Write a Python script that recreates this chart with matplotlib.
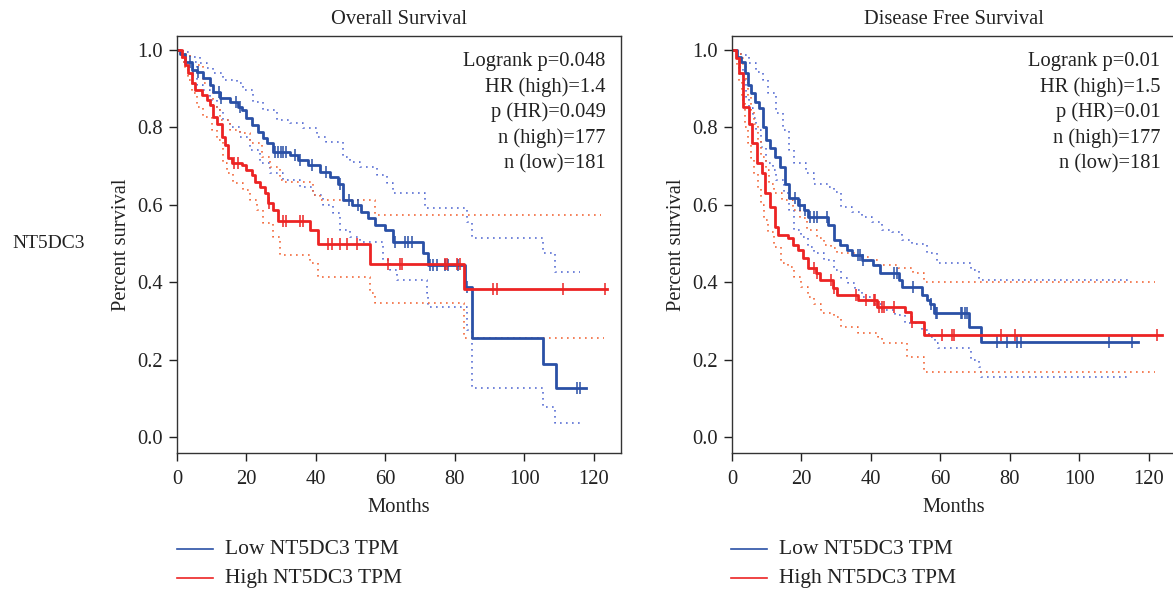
import numpy as np
import matplotlib
matplotlib.use("Agg")
import matplotlib.pyplot as plt

plt.rcParams['font.family'] = ['Liberation Serif', 'DejaVu Serif']

gene = "NT5DC3"
blue = "#2a50a6"
red = "#ec2424"
blue_ci = "#5a70d4"
red_ci = "#f26a3c"

# ---------------- Overall survival ----------------
os_low_t = [0, 1, 2.3, 4.2, 5.7, 7.6, 9.5, 10.5, 12.4, 15.3, 17.6, 18.6, 20, 21.5, 23.4, 24.8,
            25.8, 27.7, 32.5, 34.9, 37.8, 41.2, 44, 46.4, 47.9, 50.3, 53.1, 55.1, 57, 59.9,
            62.3, 70.9, 72.3, 83, 85, 105.3, 109, 117.7]
os_low_s = [1.0, 0.99, 0.97, 0.948, 0.944, 0.927, 0.909, 0.892, 0.875, 0.866, 0.853, 0.845,
            0.823, 0.806, 0.789, 0.772, 0.759, 0.737, 0.729, 0.716, 0.703, 0.686, 0.673, 0.655,
            0.612, 0.6, 0.582, 0.565, 0.548, 0.535, 0.505, 0.475, 0.444, 0.388, 0.256, 0.19,
            0.127, 0.127]
os_low_cens = [3.7, 4.5, 6, 12, 12.8, 17, 18.2, 28.2, 29, 29.8, 30.6, 31.4, 34, 35.5, 39, 43,
               47, 49.5, 52, 62.7, 65.6, 66.6, 67.5, 72.8, 73.7, 74.8, 77, 78, 80.9, 83.5,
               115.1, 116]
os_low_up_t = [0, 1.3, 3.7, 6.6, 8.5, 10.5, 13.3, 17.2, 19, 21.9, 24.8, 28.8, 32.6, 36.3, 40.2,
               43, 47.8, 49.8, 52.7, 57.5, 60.4, 62.3, 71.4, 83.5, 85, 105.3, 108.8, 116]
os_low_up_s = [1.0, 0.995, 0.982, 0.966, 0.953, 0.94, 0.922, 0.915, 0.897, 0.866, 0.845, 0.82,
               0.811, 0.798, 0.775, 0.762, 0.724, 0.711, 0.698, 0.677, 0.656, 0.63, 0.592,
               0.556, 0.514, 0.475, 0.427, 0.427]
os_low_lo_t = [0, 1.8, 5.7, 7.6, 9.5, 11.4, 13.3, 15.3, 18, 21, 24, 26.8, 30.6, 35.4, 39.1, 42,
               44.9, 46.9, 49.8, 52.7, 59.3, 61.3, 63.3, 72, 72.3, 83.5, 85, 105.3, 108.8, 116]
os_low_lo_s = [1.0, 0.969, 0.909, 0.897, 0.871, 0.845, 0.82, 0.8, 0.775, 0.742, 0.707, 0.682,
               0.664, 0.646, 0.625, 0.6, 0.578, 0.535, 0.517, 0.504, 0.457, 0.431, 0.405,
               0.372, 0.336, 0.276, 0.127, 0.078, 0.036, 0.036]

os_high_t = [0, 1.3, 2.3, 3.3, 4.2, 5.2, 7.1, 8.5, 9.5, 10.5, 11.4, 12.9, 13.8, 14.8, 15.7,
             18.6, 20, 21.5, 22.4, 23.9, 25.3, 26.3, 27.7, 29.2, 38.3, 40.7, 55.5, 82.5, 123.7]
os_high_s = [1.0, 0.983, 0.961, 0.94, 0.914, 0.897, 0.884, 0.871, 0.858, 0.828, 0.81, 0.776,
             0.755, 0.72, 0.707, 0.703, 0.69, 0.677, 0.66, 0.647, 0.63, 0.604, 0.587, 0.557,
             0.535, 0.5, 0.447, 0.383, 0.383]
os_high_cens = [16.5, 17.5, 26.5, 30.6, 31.5, 35.3, 36.2, 43.5, 44.5, 47, 49, 51.8, 60.7, 64.2,
                64.7, 77, 77.7, 80.6, 81.4, 91, 92, 111, 123.2]
os_high_up_t = [0, 1.3, 3.7, 7.6, 10.5, 12.4, 15.3, 18, 21, 24.4, 26.8, 29.6, 30.6, 39.2, 41.2,
                57, 122]
os_high_up_s = [1.0, 0.99, 0.96, 0.915, 0.853, 0.82, 0.793, 0.785, 0.76, 0.724, 0.698, 0.664,
                0.66, 0.625, 0.612, 0.573, 0.573]
os_high_lo_t = [0, 1.3, 2.3, 3.3, 4.2, 5.7, 7.6, 10, 11.4, 13.3, 14.3, 16.2, 19, 21, 23, 24.8,
                27.7, 29.6, 38.3, 40.7, 55.5, 57, 82.5, 123]
os_high_lo_s = [1.0, 0.97, 0.953, 0.922, 0.889, 0.853, 0.827, 0.793, 0.767, 0.707, 0.682, 0.656,
                0.638, 0.612, 0.587, 0.553, 0.517, 0.47, 0.45, 0.414, 0.372, 0.346, 0.256, 0.256]

# ---------------- Disease free survival ----------------
dfs_low_t = [0, 1.5, 2.6, 3.6, 4.5, 5.5, 6.7, 7.9, 8.8, 9.8, 11, 12.5, 13.9, 15.3, 16.5, 19,
             20.8, 22, 27.5, 29.5, 31, 33, 34.5, 37.3, 40.5, 42.5, 48, 49, 54.6, 56, 57, 58,
             68.2, 71.6, 116.8]
dfs_low_s = [1.0, 0.983, 0.97, 0.94, 0.91, 0.888, 0.866, 0.849, 0.802, 0.767, 0.746, 0.724,
             0.698, 0.655, 0.617, 0.6, 0.587, 0.569, 0.548, 0.509, 0.496, 0.483, 0.47, 0.457,
             0.444, 0.423, 0.406, 0.388, 0.367, 0.354, 0.345, 0.32, 0.285, 0.246, 0.246]
dfs_low_cens = [18.1, 19.5, 20.9, 22.5, 23.5, 24.5, 27.3, 36.2, 36.9, 37.6, 46.6, 47.5, 52.2,
                57.2, 58.6, 59.1, 65.8, 66.3, 67.2, 67.7, 76.3, 79.2, 82.1, 83.1, 108.5, 115.2]
dfs_low_up_t = [0, 1.5, 2.6, 5, 6.9, 8.8, 10.3, 12.7, 14.6, 16.5, 17.9, 21.3, 23.7, 27.6, 29.5,
                31.5, 34.4, 37.3, 40.2, 43.2, 46.1, 49, 51.9, 56.2, 59.1, 68.8, 71.2, 114.9]
dfs_low_up_s = [1.0, 0.995, 0.987, 0.965, 0.944, 0.922, 0.888, 0.836, 0.793, 0.742, 0.707,
                0.681, 0.655, 0.647, 0.634, 0.595, 0.582, 0.569, 0.556, 0.535, 0.53, 0.509, 0.5,
                0.475, 0.449, 0.431, 0.406, 0.406]
dfs_low_lo_t = [0, 1.5, 2.1, 3.1, 4, 5, 6, 6.9, 8.3, 9.8, 11.7, 12.7, 15.1, 16.5, 17.9, 19.9,
                21.8, 23.7, 26.6, 29.5, 31.5, 33.4, 35.4, 37.3, 40.2, 43.2, 47, 49.9, 54.7, 56.6,
                58.5, 59.3, 68.8, 71.2, 71.6, 114.7]
dfs_low_lo_s = [1.0, 0.98, 0.957, 0.922, 0.879, 0.849, 0.823, 0.793, 0.75, 0.707, 0.69, 0.664,
                0.63, 0.587, 0.535, 0.517, 0.492, 0.475, 0.457, 0.431, 0.41, 0.397, 0.38, 0.362,
                0.345, 0.328, 0.315, 0.294, 0.276, 0.259, 0.242, 0.229, 0.199, 0.182, 0.156,
                0.156]

dfs_high_t = [0, 1.2, 2, 3.3, 4.8, 5.8, 7.2, 8.6, 9.6, 11, 12.5, 13.3, 16, 17.5, 19, 20.5, 22,
              24.3, 25.3, 29.2, 30.2, 36.4, 41.7, 49.8, 51.5, 55.2, 123.7]
dfs_high_s = [1.0, 0.98, 0.94, 0.853, 0.81, 0.759, 0.707, 0.681, 0.63, 0.595, 0.543, 0.522,
              0.513, 0.496, 0.483, 0.462, 0.436, 0.423, 0.406, 0.384, 0.367, 0.354, 0.337,
              0.324, 0.298, 0.263, 0.263]
dfs_high_cens = [23.6, 24.5, 28.4, 29.4, 35.7, 38.5, 40.9, 41.3, 42.3, 43.2, 43.7, 46.6, 51.8,
                 60.4, 63.3, 63.9, 77.3, 81.4, 122.4]
dfs_high_up_t = [0, 1.5, 2.6, 3.1, 4, 4.5, 5.5, 6.4, 7.4, 8.3, 9.8, 10.7, 12.2, 14.4, 17.7,
                 19.6, 21.6, 24.5, 26.5, 28.4, 30.3, 36.1, 40, 42, 47.7, 52, 55.4, 121.7]
dfs_high_up_s = [1.0, 0.99, 0.979, 0.957, 0.922, 0.879, 0.845, 0.81, 0.767, 0.724, 0.69, 0.655,
                 0.63, 0.612, 0.587, 0.565, 0.535, 0.513, 0.496, 0.488, 0.475, 0.466, 0.457,
                 0.444, 0.436, 0.423, 0.401, 0.401]
dfs_high_lo_t = [0, 1.3, 2.1, 2.8, 3.6, 4.5, 5.5, 6.4, 7.4, 8.3, 9.3, 10.3, 12, 14.1, 16, 17.9,
                 19.9, 21.8, 23.7, 25.6, 29.5, 31.5, 36.3, 42, 43.2, 50.5, 55.3, 121.7]
dfs_high_lo_s = [1.0, 0.96, 0.92, 0.87, 0.8, 0.76, 0.72, 0.68, 0.64, 0.6, 0.56, 0.53, 0.49,
                 0.449, 0.44, 0.414, 0.388, 0.362, 0.345, 0.32, 0.311, 0.285, 0.268, 0.259,
                 0.242, 0.207, 0.169, 0.169]

os_stats = ["Logrank p=0.048", "HR (high)=1.4", "p (HR)=0.049", "n (high)=177", "n (low)=181"]
dfs_stats = ["Logrank p=0.01", "HR (high)=1.5", "p (HR)=0.01", "n (high)=177", "n (low)=181"]
xticks = [0, 20, 40, 60, 80, 100, 120]
yticks = [0.0, 0.2, 0.4, 0.6, 0.8, 1.0]

FS = 14.8
TXT = '#222222'


def step_value(t, s, x):
    idx = np.searchsorted(t, x, side='right') - 1
    return np.array(s)[idx]


def km_panel(ax, title, stats, curves):
    for t, s, cens, up_t, up_s, lo_t, lo_s, c, cc in curves:
        ax.plot(up_t, up_s, drawstyle='steps-post', color=cc, lw=1.2, ls=(0, (1, 2.6)))
        ax.plot(lo_t, lo_s, drawstyle='steps-post', color=cc, lw=1.2, ls=(0, (1, 2.6)))
    for t, s, cens, up_t, up_s, lo_t, lo_s, c, cc in curves:
        ax.plot(t, s, drawstyle='steps-post', color=c, lw=2.0)
        ax.plot(cens, step_value(t, s, cens), ls='none', marker='|', ms=9, mew=1.1, color=c)
    ax.set_xlim(0, 127.8)
    ax.set_ylim(-0.041, 1.036)
    ax.set_xticks(xticks)
    ax.set_yticks(yticks)
    ax.set_yticklabels(["%.1f" % v for v in yticks])
    ax.tick_params(length=5.5, width=1, labelsize=FS, color='#222222', labelcolor=TXT)
    ax.tick_params(axis='x', pad=7)
    ax.tick_params(axis='y', pad=5)
    for sp in ax.spines.values():
        sp.set_linewidth(1)
        sp.set_color('#333333')
    ax.set_title(title, fontsize=FS, pad=9, color=TXT)
    ax.set_xlabel("Months", fontsize=FS, color=TXT, labelpad=6)
    ax.set_ylabel("Percent survival", fontsize=FS, color=TXT, labelpad=4)
    for i, txt in enumerate(stats):
        ax.text(0.965, 0.94 - i * 0.0615, txt, transform=ax.transAxes, ha='right', va='center',
                fontsize=FS, color=TXT)


fig = plt.figure(figsize=(11.73, 5.9), dpi=100)
ax1 = fig.add_axes([177 / 1173, 137 / 590, 444 / 1173, 417 / 590])
ax2 = fig.add_axes([732 / 1173, 137 / 590, 444 / 1173, 417 / 590])

km_panel(ax1, "Overall Survival", os_stats, [
    (os_low_t, os_low_s, os_low_cens, os_low_up_t, os_low_up_s, os_low_lo_t, os_low_lo_s, blue, blue_ci),
    (os_high_t, os_high_s, os_high_cens, os_high_up_t, os_high_up_s, os_high_lo_t, os_high_lo_s, red, red_ci),
])
km_panel(ax2, "Disease Free Survival", dfs_stats, [
    (dfs_low_t, dfs_low_s, dfs_low_cens, dfs_low_up_t, dfs_low_up_s, dfs_low_lo_t, dfs_low_lo_s, blue, blue_ci),
    (dfs_high_t, dfs_high_s, dfs_high_cens, dfs_high_up_t, dfs_high_up_s, dfs_high_lo_t, dfs_high_lo_s, red, red_ci),
])

fig.text(12 / 1173, 1 - 243 / 590, gene, fontsize=14, ha='left', va='center', color=TXT)

# legends under each panel
for x0 in (177, 731):
    for j, (lab, c) in enumerate([("Low %s TPM" % gene, blue), ("High %s TPM" % gene, red)]):
        y = 1 - (549 + 29 * j) / 590
        fig.add_artist(plt.Line2D([x0 / 1173, (x0 + 36) / 1173], [y, y], color=c, lw=1.2))
        fig.text((x0 + 48) / 1173, y, lab, fontsize=15.5, ha='left', va='center', color=TXT)

fig.savefig("out.png", dpi=100)
